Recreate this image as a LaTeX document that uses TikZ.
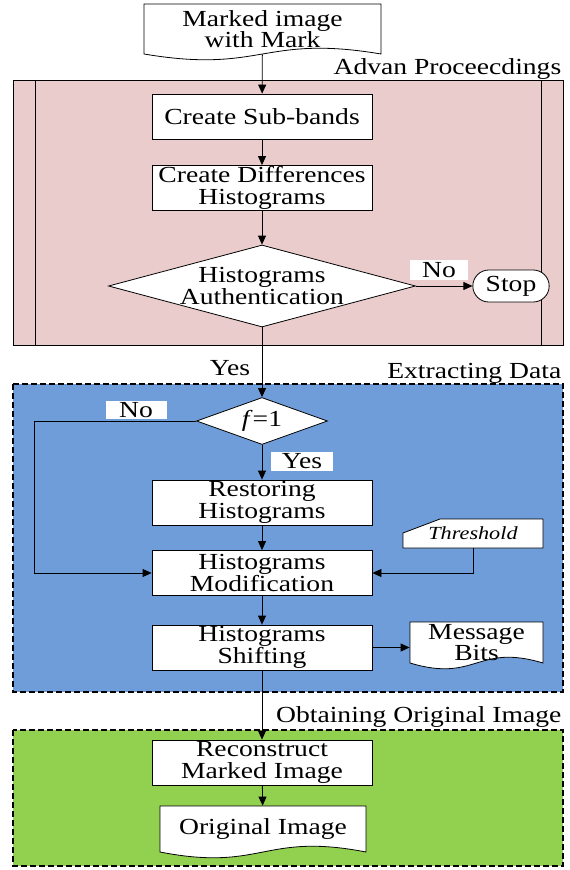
\documentclass[tikz,border=0pt]{standalone}
\usepackage{fontspec}
\setmainfont{Liberation Serif}[FakeStretch=1.2]
\usetikzlibrary{shapes.geometric,shapes.misc,arrows.meta}

\definecolor{pinkbg}{RGB}{235,204,204}
\definecolor{bluebg}{RGB}{111,157,217}
\definecolor{greenbg}{RGB}{146,208,80}

% document symbol: left, top, right, bottom of the wave
\newcommand{\docpath}[4]{%
  \draw[fill=white] (#1,#4) -- (#1,#2) -- (#3,#2) -- (#3,#4)
    .. controls ({(#1+#3)/2},{#4-20}) and ({(#1+#3)/2},{#4+20}) .. (#1,#4) -- cycle;}

\begin{document}
\begin{tikzpicture}[x=1pt, y=-1pt, line width=0.8pt,
  >={Triangle[length=9pt,width=8pt]},
  font=\fontsize{23}{21.5}\selectfont,
  box/.style={draw, fill=white, minimum width=220pt, minimum height=45pt, inner sep=1pt, align=center},
  decision/.style={diamond, draw, fill=white, inner sep=0pt, align=center},
  tag/.style={fill=white, inner sep=1pt},
  panel/.style={draw, dashed, line width=1.6pt, dash pattern=on 6pt off 3pt}]

\useasboundingbox (0,0) rectangle (570,870);

% stages
\draw[fill=pinkbg] (13,80) rectangle (563,345);
\draw (35,80) -- (35,345);
\draw (541,80) -- (541,345);
\draw[panel, fill=bluebg] (13,384) rectangle (563,692);
\draw[panel, fill=greenbg] (13,730) rectangle (563,866);

\node[anchor=east, name=stage1] at (565,69) {Advan Proceecdings};
\node[anchor=east, name=stage2] at (565,373) {Extracting Data};
\node[anchor=east, name=stage3] at (565,717) {Obtaining Original Image};

\docpath{144}{4}{381}{54}
\node[name=marked, minimum width=237pt, minimum height=50pt, align=center] at (262.5,29) {Marked image\\with Mark};

\node[box, name=sub] at (262,116.5) {Create Sub-bands};
\node[box, name=diff] at (262,188) {Create Differences\\Histograms};
\node[decision, aspect=3.7, minimum width=307pt, minimum height=82pt, name=auth] at (262,286) {Histograms\\Authentication};
\node[draw, fill=white, rounded rectangle, minimum width=83pt, minimum height=32pt, name=stop] at (511,286) {Stop};
\node[tag, minimum width=58pt, minimum height=20pt, name=no1] at (439,270) {No};
\node[name=yes1] at (230,368) {Yes};

\node[decision, aspect=2.8, minimum width=131pt, minimum height=47pt, name=flag] at (262,421) {\textit{f}=1};
\node[tag, minimum width=61pt, minimum height=18pt, name=no2] at (136,410) {No};
\node[tag, minimum width=62pt, minimum height=19pt, name=yes2] at (302,461) {Yes};

\node[box, name=restore] at (262,502.5) {Restoring\\Histograms};
\node[box, name=modify] at (262,573) {Histograms\\Modification};
\node[box, name=shift] at (262,647.5) {Histograms\\Shifting};

\draw[fill=white] (403,533) -- (440,519) -- (543,519) -- (543,548) -- (403,548) -- cycle;
\node[name=thresh, minimum width=140pt, minimum height=29pt, font=\fontsize{18.5}{18.5}\selectfont\itshape] at (473,533.5) {Threshold};

\docpath{410}{622}{543}{663}
\node[name=bits, minimum width=133pt, minimum height=41pt, align=center] at (476.5,642.5) {Message\\Bits};

\node[box, name=rebuild] at (262,762.5) {Reconstruct\\Marked Image};

\docpath{160}{806}{366}{852}
\node[name=orig, minimum width=206pt, minimum height=46pt] at (263,829) {Original Image};

\draw[->] (marked) -- (sub);
\draw[->] (sub) -- (diff);
\draw[->] (diff) -- (auth);
\draw[->] (auth) -- (stop);
\draw[->] (auth) -- (flag);
\draw[->] (flag.west) -- ++(-162,0) |- (modify.west);
\draw[->] (flag) -- (restore);
\draw[->] (restore) -- (modify);
\draw[->] (thresh.south) |- (modify.east);
\draw[->] (modify) -- (shift);
\draw[->] (shift.east) -- (shift.east -| bits.west);
\draw[->] (shift) -- (rebuild);
\draw[->] (rebuild) -- (orig);
\end{tikzpicture}
\end{document}
